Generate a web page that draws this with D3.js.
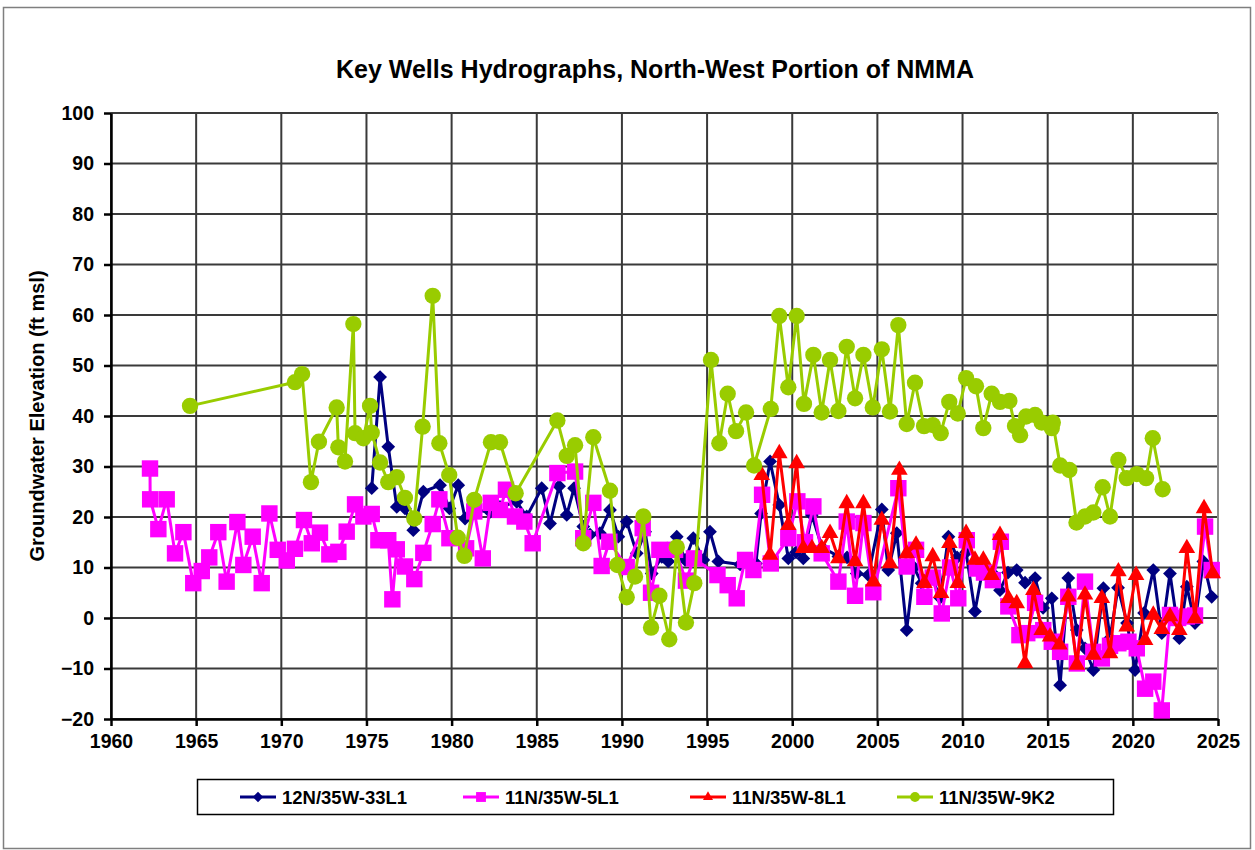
<!DOCTYPE html>
<html>
<head>
<meta charset="utf-8">
<title>Key Wells Hydrographs</title>
<script src="https://d3js.org/d3.v7.min.js"></script>
<style>
  body { margin: 0; background: #fff; }
  svg { display: block; font-family: "Liberation Sans", Arial, sans-serif; }
  .grid line { stroke: #3a3a3a; stroke-width: 2px; }
  .axis path, .axis line { stroke: #000; stroke-width: 2.5px; }
  .axis text { font-size: 19.5px; font-weight: bold; fill: #000; }
</style>
</head>
<body>
<svg width="1255" height="850"></svg>
<script>

// series: [year, groundwater elevation (ft msl)]
var well33L1 = [
  [1975.31, 25.7], [1975.80, 47.7], [1976.28, 33.9], [1976.78, 22.0], [1977.26, 21.7], [1977.75, 17.4],
  [1978.34, 25.0], [1979.32, 26.3], [1979.87, 21.7], [1980.39, 26.3], [1980.79, 19.7], [1981.37, 21.4],
  [1982.26, 21.0], [1982.84, 22.0], [1983.82, 23.0], [1984.41, 20.1], [1985.29, 25.7], [1985.78, 18.7],
  [1986.31, 26.1], [1986.76, 20.4], [1987.19, 25.7], [1987.73, 18.1], [1988.13, 16.5], [1988.71, 16.8],
  [1989.30, 21.4], [1989.79, 16.1], [1990.28, 19.1], [1990.87, 12.8], [1991.36, 17.1], [1991.75, 8.8],
  [1992.34, 12.1], [1992.72, 11.2], [1993.22, 16.1], [1993.71, 11.5], [1994.19, 15.8], [1994.78, 11.5],
  [1995.17, 17.1], [1995.66, 11.2], [1996.94, 10.6], [1997.87, 10.8], [1998.17, 20.7], [1998.70, 31.0],
  [1999.24, 22.4], [1999.77, 11.8], [2000.22, 13.0], [2000.65, 11.8], [2001.15, 20.4], [2001.75, 14.0],
  [2002.71, 12.2], [2003.22, 12.0], [2003.79, 8.8], [2004.47, 8.5], [2005.26, 21.5], [2005.64, 9.5],
  [2006.14, 16.8], [2006.72, -2.4], [2007.15, 10.0], [2007.60, 6.9], [2008.21, 8.0], [2008.68, 4.0],
  [2009.17, 16.1], [2009.68, 12.0], [2010.21, 13.0], [2010.73, 1.3], [2011.20, 10.0], [2011.73, 9.0],
  [2012.20, 5.5], [2012.67, 9.0], [2013.18, 9.5], [2013.67, 7.0], [2014.26, 7.9], [2014.73, 2.0],
  [2015.24, 3.9], [2015.73, -13.3], [2016.21, 7.9], [2016.71, -2.4], [2017.19, -6.0], [2017.68, -10.3],
  [2018.27, 5.9], [2018.66, -4.0], [2019.13, 6.0], [2019.66, -1.0], [2020.13, -10.3], [2020.66, 1.0],
  [2021.20, 9.5], [2021.70, -3.0], [2022.18, 8.8], [2022.73, -4.0], [2023.17, 6.2], [2023.65, -1.0],
  [2024.14, 11.2], [2024.63, 4.2]
];

var well5L1 = [
  [1962.29, 29.6], [1962.30, 23.5], [1962.78, 17.6], [1963.27, 23.5], [1963.76, 12.8], [1964.25, 17.0],
  [1964.83, 6.9], [1965.33, 9.3], [1965.77, 12.0], [1966.30, 17.0], [1966.79, 7.2], [1967.42, 19.0],
  [1967.77, 10.5], [1968.32, 16.1], [1968.85, 6.9], [1969.30, 20.7], [1969.79, 13.5], [1970.32, 11.4],
  [1970.80, 13.7], [1971.33, 19.4], [1971.79, 14.8], [1972.27, 16.9], [1972.82, 12.6], [1973.35, 13.1],
  [1973.84, 17.1], [1974.33, 22.5], [1974.82, 20.1], [1975.31, 20.6], [1975.70, 15.4], [1976.28, 15.4],
  [1976.52, 3.7], [1976.78, 13.6], [1977.26, 10.2], [1977.81, 7.7], [1978.34, 12.9], [1978.89, 18.6],
  [1979.28, 23.5], [1979.87, 15.8], [1980.85, 13.8], [1981.33, 21.1], [1981.83, 11.8], [1982.30, 22.8],
  [1982.84, 21.4], [1983.19, 25.4], [1983.72, 20.1], [1984.27, 19.1], [1984.76, 14.8], [1986.21, 28.7],
  [1987.25, 29.0], [1987.73, 15.8], [1988.32, 22.8], [1988.81, 10.3], [1989.26, 15.1], [1990.28, 10.1],
  [1991.22, 17.8], [1991.71, 5.0], [1992.20, 13.5], [1993.12, 13.5], [1993.76, 7.4], [1994.23, 11.8],
  [1995.61, 8.5], [1996.21, 6.5], [1996.74, 3.9], [1997.23, 11.5], [1997.72, 9.5], [1998.23, 24.4],
  [1998.74, 10.8], [1999.77, 15.8], [2000.30, 23.1], [2000.75, 15.0], [2001.24, 22.1], [2001.73, 12.8],
  [2002.71, 7.2], [2003.20, 19.1], [2003.69, 4.4], [2004.18, 18.8], [2004.76, 5.1], [2006.23, 25.7],
  [2006.72, 10.2], [2007.27, 13.5], [2007.76, 4.2], [2008.25, 8.0], [2008.78, 0.9], [2009.27, 10.0],
  [2009.75, 3.9], [2010.25, 15.4], [2010.84, 9.8], [2011.26, 9.0], [2011.78, 7.5], [2012.25, 15.1],
  [2012.69, 2.3], [2013.34, -3.4], [2013.80, -3.0], [2014.26, 3.0], [2014.74, -2.4], [2015.24, -4.7],
  [2015.73, -6.7], [2016.21, 4.2], [2016.71, -9.0], [2017.19, 7.2], [2017.68, -6.7], [2018.18, -8.0],
  [2018.66, -5.5], [2019.15, -5.0], [2019.74, -4.7], [2020.23, -6.0], [2020.72, -14.0], [2021.20, -12.6],
  [2021.70, -18.3], [2022.18, 0.6], [2022.66, 0.0], [2023.17, 0.3], [2023.65, 0.5], [2024.24, 18.1],
  [2024.63, 9.5]
];

var well8L1 = [
  [1998.21, 28.3], [1998.70, 12.5], [1999.24, 32.6], [1999.77, 18.4], [2000.26, 30.6], [2000.65, 13.8],
  [2001.16, 13.8], [2001.73, 13.8], [2002.22, 16.8], [2002.71, 11.8], [2003.20, 22.7], [2003.69, 11.2],
  [2004.18, 22.7], [2004.76, 7.2], [2005.26, 19.4], [2005.74, 10.8], [2006.29, 29.3], [2006.72, 12.8],
  [2007.27, 14.5], [2007.76, 6.9], [2008.25, 12.2], [2008.74, 4.9], [2009.23, 14.8], [2009.72, 6.9],
  [2010.21, 16.8], [2010.73, 11.5], [2011.22, 11.5], [2011.71, 8.5], [2012.20, 16.4], [2012.69, 3.9],
  [2013.18, 2.9], [2013.67, -9.0], [2014.16, 5.5], [2014.65, -2.4], [2015.14, -3.7], [2015.69, -5.3],
  [2016.21, 4.2], [2016.71, -9.3], [2017.19, 4.6], [2017.68, -7.3], [2018.18, 3.9], [2018.66, -7.0],
  [2019.15, 9.2], [2019.64, -1.7], [2020.19, 8.5], [2020.72, -4.4], [2021.20, 0.6], [2021.70, -2.2],
  [2022.18, 0.3], [2022.73, -2.4], [2023.17, 13.8], [2023.65, -0.1], [2024.18, 21.7], [2024.69, 8.8]
];

var well9K2 = [
  [1964.64, 42.0], [1970.80, 46.7], [1971.22, 48.3], [1971.74, 26.9], [1972.21, 34.9], [1973.25, 41.7],
  [1973.35, 33.8], [1973.74, 31.0], [1974.23, 58.2], [1974.33, 36.6], [1974.82, 35.6], [1975.21, 42.0],
  [1975.31, 36.7], [1975.80, 30.8], [1976.28, 26.9], [1976.78, 27.9], [1977.26, 23.8], [1977.81, 19.7],
  [1978.30, 37.9], [1978.89, 63.8], [1979.28, 34.6], [1979.86, 28.3], [1980.36, 15.9], [1980.75, 12.3],
  [1981.33, 23.4], [1982.31, 34.8], [1982.84, 34.8], [1983.76, 24.7], [1986.21, 39.1], [1986.76, 32.1],
  [1987.25, 34.2], [1987.73, 14.8], [1988.32, 35.8], [1989.30, 25.2], [1989.73, 10.5], [1990.28, 4.1],
  [1990.77, 8.2], [1991.26, 20.1], [1991.71, -1.9], [1992.20, 4.4], [1992.78, -4.2], [1993.22, 14.0],
  [1993.76, -0.9], [1994.25, 6.9], [1995.23, 51.1], [1995.72, 34.6], [1996.21, 44.4], [1996.70, 37.0],
  [1997.29, 40.7], [1997.76, 30.2], [1998.74, 41.4], [1999.24, 59.8], [1999.77, 45.7], [2000.26, 59.8],
  [2000.69, 42.4], [2001.24, 52.1], [2001.73, 40.7], [2002.22, 51.1], [2002.71, 41.0], [2003.20, 53.7],
  [2003.69, 43.5], [2004.18, 52.1], [2004.73, 41.7], [2005.26, 53.2], [2005.74, 40.9], [2006.23, 58.0],
  [2006.72, 38.4], [2007.21, 46.6], [2007.74, 38.0], [2008.25, 38.2], [2008.72, 36.6], [2009.22, 42.8],
  [2009.72, 40.5], [2010.21, 47.5], [2010.79, 45.9], [2011.22, 37.6], [2011.71, 44.4], [2012.20, 42.8],
  [2012.75, 43.0], [2013.08, 38.0], [2013.38, 36.2], [2013.73, 39.9], [2014.26, 40.2], [2014.65, 38.7],
  [2015.24, 37.6], [2015.30, 38.7], [2015.73, 30.2], [2016.27, 29.3], [2016.69, 18.9], [2017.19, 20.1],
  [2017.68, 20.9], [2018.23, 25.9], [2018.66, 20.1], [2019.15, 31.3], [2019.64, 27.7], [2020.23, 28.5],
  [2020.78, 27.7], [2021.17, 35.6], [2021.75, 25.5]
];

var seriesNames = ["12N/35W-33L1", "11N/35W-5L1", "11N/35W-8L1", "11N/35W-9K2"];
var xTicks = [1960, 1965, 1970, 1975, 1980, 1985, 1990, 1995, 2000, 2005, 2010, 2015, 2020, 2025];
var yTicks = [-20, -10, 0, 10, 20, 30, 40, 50, 60, 70, 80, 90, 100];

var series = [
  {name: seriesNames[0], values: well33L1, color: "#000080", symbol: "diamond"},
  {name: seriesNames[1], values: well5L1, color: "#ff00ff", symbol: "square"},
  {name: seriesNames[2], values: well8L1, color: "#ff0000", symbol: "triangle"},
  {name: seriesNames[3], values: well9K2, color: "#99cc00", symbol: "circle"}
];

var svg = d3.select("svg");
var plotLeft = 111, plotRight = 1218, plotTop = 113, plotBottom = 719;

var x = d3.scaleLinear().domain([1960, 2025]).range([plotLeft, plotRight]);
var y = d3.scaleLinear().domain([-20, 100]).range([plotBottom, plotTop]);

// outer chart frame
svg.append("rect")
    .attr("x", 3.5).attr("y", 7.5)
    .attr("width", 1247).attr("height", 841)
    .attr("fill", "#fff")
    .attr("stroke", "#7f7f7f")
    .attr("stroke-width", 1.5);

svg.append("text")
    .attr("x", 655).attr("y", 78)
    .attr("text-anchor", "middle")
    .style("font-size", "25px")
    .style("font-weight", "bold")
    .text("Key Wells Hydrographs, North-West Portion of NMMA");

// grid
var grid = svg.append("g").attr("class", "grid");
grid.selectAll(".h").data(yTicks).enter().append("line")
    .attr("x1", plotLeft).attr("x2", plotRight)
    .attr("y1", function(d) { return y(d); })
    .attr("y2", function(d) { return y(d); });
grid.selectAll(".v").data(xTicks).enter().append("line")
    .attr("x1", function(d) { return x(d); })
    .attr("x2", function(d) { return x(d); })
    .attr("y1", plotTop).attr("y2", plotBottom);

svg.append("line")
    .attr("x1", plotRight).attr("x2", plotRight)
    .attr("y1", plotTop).attr("y2", plotBottom)
    .attr("stroke", "#8c8c8c").attr("stroke-width", 2);

// axes
svg.append("g")
    .attr("class", "axis")
    .attr("transform", "translate(0," + plotBottom + ")")
    .call(d3.axisBottom(x).tickValues(xTicks).tickFormat(d3.format("d")).tickSize(7).tickSizeOuter(0).tickPadding(8));

svg.append("g")
    .attr("class", "axis")
    .attr("transform", "translate(" + plotLeft + ",0)")
    .call(d3.axisLeft(y).tickValues(yTicks).tickSize(7).tickSizeOuter(0).tickPadding(10));

svg.append("text")
    .attr("transform", "translate(44," + ((plotTop + plotBottom) / 2) + ") rotate(-90)")
    .attr("text-anchor", "middle")
    .style("font-size", "20px")
    .style("font-weight", "bold")
    .text("Groundwater Elevation (ft msl)");

function markerPath(type) {
  if (type == "diamond") return d3.symbol().type(d3.symbolSquare).size(95)();
  if (type == "square") return d3.symbol().type(d3.symbolSquare).size(270)();
  if (type == "triangle") return d3.symbol().type(d3.symbolTriangle).size(120)();
  return d3.symbol().type(d3.symbolCircle).size(210)();
}
function markerRotate(type) { return type == "diamond" ? " rotate(45)" : ""; }

var line = d3.line()
    .x(function(d) { return x(d[0]); })
    .y(function(d) { return y(d[1]); });

var plot = svg.append("g");
series.forEach(function(s) {
  var g = plot.append("g");
  g.append("path")
      .attr("d", line(s.values))
      .attr("fill", "none")
      .attr("stroke", s.color)
      .attr("stroke-width", 3)
      .attr("stroke-linejoin", "round");
  g.selectAll(".m").data(s.values).enter().append("path")
      .attr("d", markerPath(s.symbol))
      .attr("transform", function(d) { return "translate(" + x(d[0]) + "," + y(d[1]) + ")" + markerRotate(s.symbol); })
      .attr("fill", s.color);
});

// legend
var legend = svg.append("g");
legend.append("rect")
    .attr("x", 197.5).attr("y", 779.5)
    .attr("width", 916).attr("height", 35)
    .attr("fill", "#fff")
    .attr("stroke", "#000")
    .attr("stroke-width", 1.5);

var legendX = [240, 463, 690, 897];
series.forEach(function(s, i) {
  var lg = legend.append("g").attr("transform", "translate(" + legendX[i] + ",797)");
  lg.append("line")
      .attr("x1", 0).attr("x2", 36)
      .attr("stroke", s.color).attr("stroke-width", 3);
  var scale = s.symbol == "diamond" ? 0.75 : 0.6;
  lg.append("path")
      .attr("d", markerPath(s.symbol))
      .attr("transform", "translate(18,0) scale(" + scale + ")" + markerRotate(s.symbol))
      .attr("fill", s.color);
  lg.append("text")
      .attr("x", 42).attr("y", 7)
      .style("font-size", "18.5px")
      .style("font-weight", "bold")
      .text(s.name);
});

</script>
</body>
</html>
